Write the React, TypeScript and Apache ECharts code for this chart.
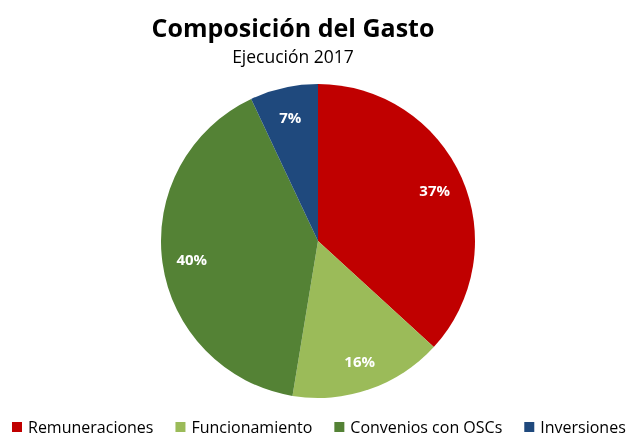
import React, { useEffect, useRef } from "react";
import * as echarts from "echarts";

const categories = ["Remuneraciones", "Funcionamiento", "Convenios con OSCs", "Inversiones"];
const values = [36.8, 15.8, 40.4, 7.0];
const colors = ["#C00000", "#9BBB59", "#548235", "#1F497D"];
const titleText = "Composición del Gasto";
const subtitleText = "Ejecución 2017";

export default function App() {
  const ref = useRef<HTMLDivElement>(null);
  useEffect(() => {
    document.body.style.margin = "0";
    const chart = echarts.init(ref.current!, null, { renderer: "svg" });
    const data = categories.map((name, i) => ({ name, value: values[i], itemStyle: { color: colors[i] } }));
    const font = "'Open Sans', Lato, sans-serif";
    chart.setOption({
      animation: false,
      title: {
        text: titleText,
        subtext: subtitleText,
        left: 288,
        textAlign: "center",
        top: 9,
        itemGap: 8,
        textStyle: { fontFamily: font, fontSize: 25, fontWeight: "bold", color: "#000" },
        subtextStyle: { fontFamily: font, fontSize: 17.5, color: "#000" },
      },
      legend: {
        data: categories,
        left: 12,
        top: 419,
        width: 640,
        padding: 0,
        itemWidth: 10,
        itemHeight: 10,
        itemGap: 22,
        icon: "rect",
        textStyle: { fontFamily: font, fontSize: 16, lineHeight: 14, color: "#000", padding: [0, 0, 0, 1] },
      },
      series: [
        {
          type: "pie",
          center: [318, 241],
          radius: [0, 157],
          startAngle: 90,
          clockwise: true,
          data,
          label: { show: false },
          labelLine: { show: false },
          itemStyle: { borderWidth: 0 },
          silent: true,
        },
        {
          type: "pie",
          center: [318, 241],
          radius: [92, 157],
          startAngle: 90,
          clockwise: true,
          data: categories.map((name, i) => ({ name, value: values[i] })),
          itemStyle: { color: "rgba(0,0,0,0)", borderWidth: 0 },
          label: {
            show: true,
            position: "inner",
            formatter: (p: any) => Math.round(p.value) + "%",
            color: "#fff",
            fontFamily: font,
            fontWeight: "bold",
            fontSize: 15,
          },
          labelLine: { show: false },
          silent: true,
          legendHoverLink: false,
        },
      ],
    });
    return () => chart.dispose();
  }, []);
  return <div ref={ref} style={{ position: "fixed", left: 0, top: 0, width: 631, height: 437 }} />;
}
